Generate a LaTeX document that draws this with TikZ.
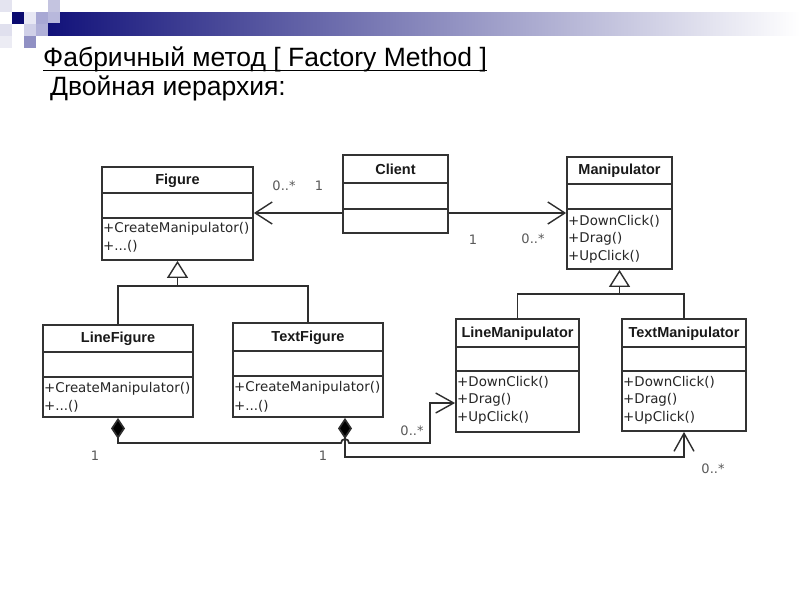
\documentclass[tikz,border=0pt]{standalone}
\usepackage{fontspec}
\setmainfont{Liberation Sans}
\newfontfamily\dv{DejaVu Sans}
\usetikzlibrary{arrows.meta,fit,calc}
\definecolor{navy}{HTML}{12127A}
\definecolor{boxc}{HTML}{333333}
\definecolor{linec}{HTML}{2E2E2E}
\newcommand\klass[8]{%
  \node[box, fit={(#2,#3) (#4,#5)}] (#1) {};
  \draw[sepline] (#2,#6) -- (#4,#6) (#2,#7) -- (#4,#7);
  \node[ttl] (#1-t) at ({(#2+#4)/2},{(#3+#6)/2+0.5}) {#8};
}
\begin{document}
\begin{tikzpicture}[x=1pt,y=-1pt,
  box/.style={draw=boxc, line width=1.8pt, inner sep=0pt, fill=white},
  sepline/.style={draw=boxc, line width=1.6pt},
  ttl/.style={font=\fontsize{14.5}{16}\selectfont\bfseries, text=black!90, inner sep=0pt},
  meth/.style={font=\dv\fontsize{13.4}{15}\selectfont, anchor=west, inner sep=0pt, text=black!85},
  mult/.style={font=\dv\fontsize{13}{15}\selectfont, text=black!65, inner sep=0pt},
  conn/.style={draw=linec, line width=1.7pt},
  assoc/.style={conn, -{Straight Barb[length=17pt,width=22pt,line width=1.4pt]}},
  inh/.style={conn, -{Triangle[open,length=17pt,width=21pt,fill=white,line width=1.4pt]}},
  comp/.style={conn, {Diamond[length=21pt,width=14pt,fill=black]}-{Straight Barb[length=18pt,width=20pt,line width=1.4pt]}},
  heading/.style={font=\fontsize{26.5}{30}\selectfont, anchor=base west, inner sep=0pt, text=black}
]
\useasboundingbox (0,0) rectangle (800,600);
\fill[white] (0,0) rectangle (800,600);
% decoration
\shade[left color=navy, middle color=navy!55, right color=white] (48,12) rectangle (800,35);
\fill[color={rgb,255:red,228;green,228;blue,240}] (0,0) rectangle (12,12);
\fill[color={rgb,255:red,196;green,196;blue,224}] (48,0) rectangle (60,12);
\fill[color={rgb,255:red,184;green,184;blue,220}] (48,12) rectangle (60,23);
\fill[color={rgb,255:red,10;green,10;blue,112}] (12,12) rectangle (24,24);
\fill[color={rgb,255:red,232;green,232;blue,244}] (24,12) rectangle (36,24);
\fill[color={rgb,255:red,168;green,168;blue,212}] (36,12) rectangle (48,24);
\fill[color={rgb,255:red,224;green,224;blue,238}] (0,24) rectangle (12,36);
\fill[color={rgb,255:red,208;green,208;blue,232}] (24,24) rectangle (36,36);
\fill[color={rgb,255:red,176;green,176;blue,216}] (36,24) rectangle (48,36);
\fill[color={rgb,255:red,144;green,144;blue,196}] (24,36) rectangle (36,48);
\fill[color={rgb,255:red,236;green,236;blue,244}] (0,36) rectangle (12,48);
% headings
\node[heading] (h1) at (43,66.5) {Фабричный метод [ Factory Method ]};
\draw[black, line width=1.3pt] ([yshift=-4pt]h1.base west) -- ([yshift=-4pt]h1.base east);
\node[heading] (h2) at (50,95.5) {Двойная иерархия:};
% classes
\klass{fig}{102}{167}{253}{260}{193}{218}{Figure}
\node[meth] (fig-m1) at (103,229) {+CreateManipulator()};
\node[meth] (fig-m2) at (103,246) {+...()};
\klass{cli}{343}{155}{448}{233}{183}{209}{Client}
\klass{man}{567}{157}{672}{269}{184}{209}{Manipulator}
\node[meth] (man-m1) at (568,221) {+DownClick()};
\node[meth] (man-m2) at (568,239) {+Drag()};
\node[meth] (man-m3) at (568,257) {+UpClick()};
\klass{lfig}{43}{325}{193}{417}{352}{377}{LineFigure}
\node[meth] (lfig-m1) at (44,389) {+CreateManipulator()};
\node[meth] (lfig-m2) at (44,406) {+...()};
\klass{tfig}{233}{323}{383}{417}{351}{376}{TextFigure}
\node[meth] (tfig-m1) at (234,388) {+CreateManipulator()};
\node[meth] (tfig-m2) at (234,406) {+...()};
\klass{lman}{456}{319}{579}{432}{347}{371}{LineManipulator}
\node[meth] (lman-m1) at (457,382) {+DownClick()};
\node[meth] (lman-m2) at (457,400) {+Drag()};
\node[meth] (lman-m3) at (457,418) {+UpClick()};
\klass{tman}{622}{319}{746}{431}{347}{371}{TextManipulator}
\node[meth] (tman-m1) at (623,382) {+DownClick()};
\node[meth] (tman-m2) at (623,400) {+Drag()};
\node[meth] (tman-m3) at (623,418) {+UpClick()};
% associations
\coordinate (cw) at ([yshift=-19pt]cli.west);
\coordinate (ce) at ([yshift=-19pt]cli.east);
\draw[assoc] (cw) -- (cw -| fig.east);
\draw[assoc] (ce) -- (ce -| man.west);
% generalizations
\coordinate (j1) at (177.5,286);
\draw[conn] (lfig.north) |- (j1) -| (tfig.north);
\draw[inh] (j1) -- (fig.south);
\coordinate (j2) at (619.5,294);
\draw[conn] (lman.north) |- (j2) -| (tman.north);
\draw[inh] (j2) -- (man.south);
% compositions
\coordinate (ls) at (lfig.south);
\coordinate (ts) at ([xshift=37pt]tfig.south);
\coordinate (lb) at (430,443);
\coordinate (la) at ([yshift=-27.5pt]lman.west);
\draw[comp] (ls) -- (118,443) -- (341,443) arc (180:360:4) -- (lb) |- (la);
\draw[comp] (ts) -- (345,457) -| (tman.south);
% multiplicities
\node[mult] (m1) at (284,186) {0..*};
\node[mult] (m2) at (319,186) {1};
\node[mult] (m3) at (473,240) {1};
\node[mult] (m4) at (533,239) {0..*};
\node[mult] (m5) at (412,431) {0..*};
\node[mult] (m6) at (713,469) {0..*};
\node[mult] (m7) at (95,456) {1};
\node[mult] (m8) at (323,456) {1};
\end{tikzpicture}
\end{document}
